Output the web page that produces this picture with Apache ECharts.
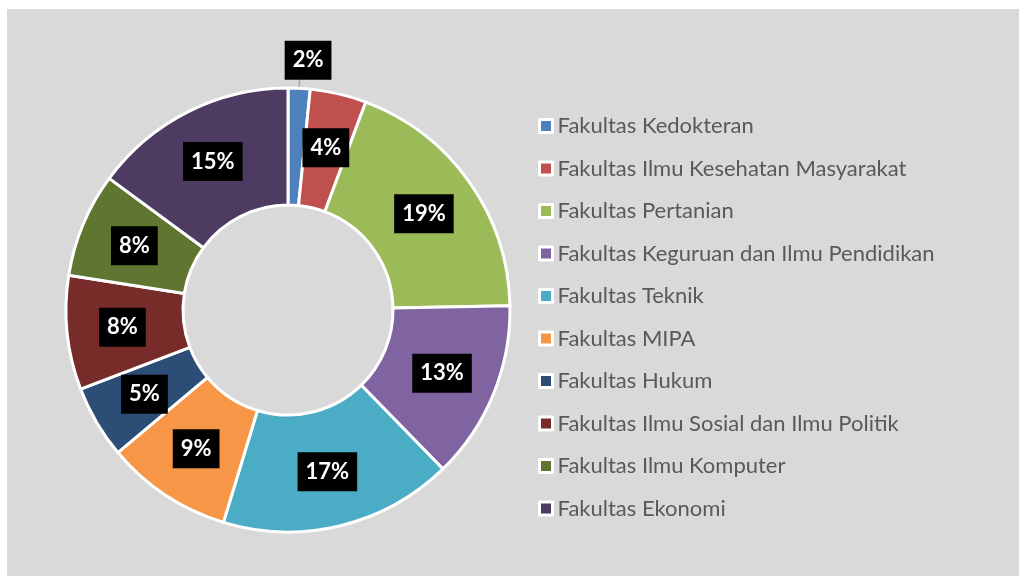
<!DOCTYPE html>
<html>
<head>
<meta charset="utf-8">
<script src="https://cdn.jsdelivr.net/npm/echarts@6/dist/echarts.min.js"></script>
<style>
  html, body { margin: 0; padding: 0; background: #ffffff; }
  #chart { position: absolute; left: 7px; top: 9px; width: 1012px; height: 567px; background: #d9d9d9; }
</style>
</head>
<body>
<div id="chart"></div>
<script>
// faculties (legend order, clockwise from 12 o'clock)
var categories = [
  "Fakultas Kedokteran",
  "Fakultas Ilmu Kesehatan Masyarakat",
  "Fakultas Pertanian",
  "Fakultas Keguruan dan Ilmu Pendidikan",
  "Fakultas Teknik",
  "Fakultas MIPA",
  "Fakultas Hukum",
  "Fakultas Ilmu Sosial dan Ilmu Politik",
  "Fakultas Ilmu Komputer",
  "Fakultas Ekonomi"
];
// share of each faculty (percent)
var shares = [1.6, 4.1, 19, 13, 17, 9.2, 5.3, 8.3, 7.6, 14.9];
var colors = ["#4f81bd", "#c0504d", "#9bbb59", "#8064a2", "#4bacc6",
              "#f79646", "#2c4d75", "#772c2a", "#5f7530", "#4d3b62"];

var myChart = echarts.init(document.getElementById("chart"));

var data = [];
for (var i = 0; i < categories.length; i++) {
  var item = { name: categories[i], value: shares[i], itemStyle: { color: colors[i] } };
  if (i === 0) {
    // small slice: label sits outside with a leader line
    item.label = { position: "outside", distanceToLabelLine: 0 };
    item.labelLine = { show: true, length: 30, length2: 0 };
  }
  data.push(item);
}

var options = {
  backgroundColor: "#d9d9d9",
  legend: {
    orient: "vertical",
    left: 526,
    top: 101,
    itemWidth: 13,
    itemHeight: 13,
    itemGap: 20.5,
    icon: "rect",
    itemStyle: { borderColor: "#ffffff", borderWidth: 3 },
    textStyle: {
      fontFamily: "Lato",
      fontSize: 22,
      lineHeight: 22,
      color: "#595959"
    },
    data: categories
  },
  series: [
    {
      type: "pie",
      center: [281, 301],
      radius: [105, 222],
      startAngle: 90,
      clockwise: true,
      avoidLabelOverlap: false,
      itemStyle: { borderColor: "#ffffff", borderWidth: 3 },
      label: {
        show: true,
        position: "inside",
        formatter: function (p) { return Math.round(p.percent) + "%"; },
        backgroundColor: "#000000",
        color: "#ffffff",
        fontFamily: "Lato",
        fontWeight: "bold",
        fontSize: 22,
        padding: [9, 8, 8, 8]
      },
      labelLine: {
        show: false,
        lineStyle: { color: "#a6a6a6", width: 1.5 }
      },
      labelLayout: function (params) {
        if (params.dataIndex === 0) {
          return { dx: -16, dy: 2 };
        }
      },
      emphasis: { disabled: true },
      data: data
    }
  ]
};

myChart.setOption(options);
window.addEventListener("resize", function () { myChart.resize(); });
</script>
</body>
</html>
